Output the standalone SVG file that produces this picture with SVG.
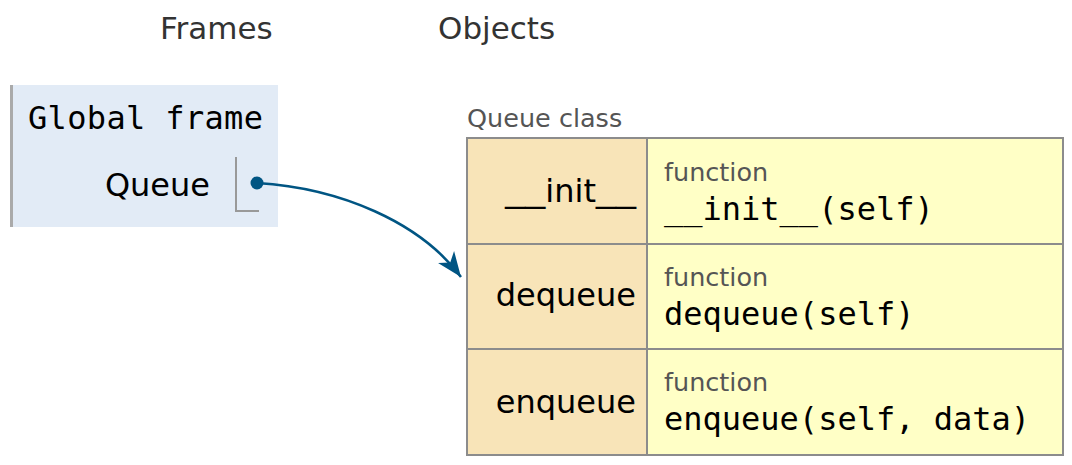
<svg xmlns="http://www.w3.org/2000/svg" width="1072" height="465" viewBox="0 0 1072 465">
<style>
.head{font-family:"DejaVu Sans",Verdana,sans-serif;font-size:31px;fill:#333}
.mono{font-family:"DejaVu Sans Mono",monospace;font-size:32px;fill:#000}
.sans{font-family:"DejaVu Sans",Verdana,sans-serif;font-size:32px;fill:#000}
.small{font-family:"DejaVu Sans",Verdana,sans-serif;font-size:25.5px;fill:#555}
.key{fill:#f8e4b8;stroke:#8c8c8c;stroke-width:2}
.val{fill:#ffffc6;stroke:#8c8c8c;stroke-width:2}
.ptr{fill:none;stroke:#999;stroke-width:2}
.us{font-family:"Liberation Sans",Arial,sans-serif;font-size:36px}
</style>
<defs>
<marker id="arr" markerUnits="userSpaceOnUse" markerWidth="40" markerHeight="40" refX="0" refY="0" viewBox="-30 -15 40 30" orient="auto" overflow="visible">
<path d="M0,0 L-25,-10 L-18,0 L-25,10 Z" fill="#005583"/>
</marker>
</defs>
<rect width="1072" height="465" fill="#fff"/>
<text class="head" x="160" y="39">Frames</text>
<text class="head" x="438" y="39">Objects</text>
<g id="global-frame">
<rect x="10" y="85" width="268" height="142" fill="#e2ebf6"/>
<rect x="10" y="85" width="3" height="142" fill="#aaa"/>
<text class="mono" x="28" y="129" textLength="235">Global frame</text>
<text class="sans" x="210" y="196" text-anchor="end">Queue</text>
<path class="ptr" d="M236,157 V211 H259"/>
</g>
<g id="queue-class">
<text class="small" x="467" y="127">Queue class</text>
<rect class="key" x="467" y="138" width="180" height="106"/>
<rect class="val" x="647" y="138" width="416" height="106"/>
<rect class="key" x="467" y="244" width="180" height="105"/>
<rect class="val" x="647" y="244" width="416" height="105"/>
<rect class="key" x="467" y="349" width="180" height="106"/>
<rect class="val" x="647" y="349" width="416" height="106"/>
<text class="sans" x="636" y="202" text-anchor="end"><tspan class="us">__</tspan>init<tspan class="us">__</tspan></text>
<text class="sans" x="636" y="306" text-anchor="end">dequeue</text>
<text class="sans" x="636" y="413" text-anchor="end">enqueue</text>
<text class="small" x="664" y="181">function</text>
<text class="mono" x="664" y="220">__init__(self)</text>
<text class="small" x="664" y="286">function</text>
<text class="mono" x="664" y="325">dequeue(self)</text>
<text class="small" x="664" y="391">function</text>
<text class="mono" x="664" y="430">enqueue(self, data)</text>
</g>
<g id="connectors">
<circle cx="257" cy="183" r="6.5" fill="#005583"/>
<path d="M257,183 C340,188 420,222 461,277" fill="none" stroke="#005583" stroke-width="2.5" marker-end="url(#arr)"/>
</g>
</svg>
